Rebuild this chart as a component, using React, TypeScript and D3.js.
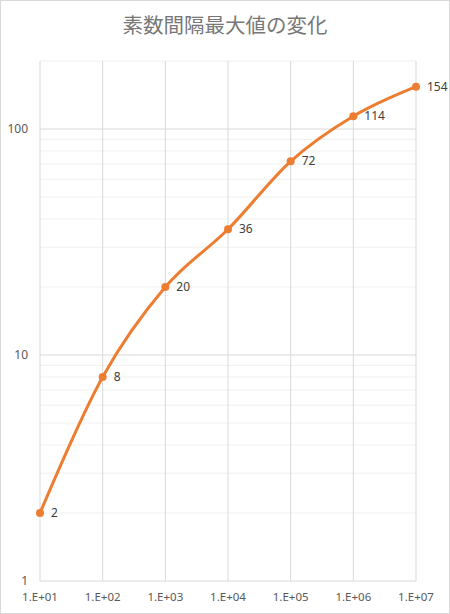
import React from "react";
import * as d3 from "d3";

// Largest prime gap observed up to each bound
const bounds = [1e1, 1e2, 1e3, 1e4, 1e5, 1e6, 1e7];
const maxGaps = [2, 8, 20, 36, 72, 114, 154];
const xTickLabels = ["1.E+01", "1.E+02", "1.E+03", "1.E+04", "1.E+05", "1.E+06", "1.E+07"];
const yMajorTicks = [1, 10, 100];
const title = "素数間隔最大値の変化";

const W = 450;
const H = 614;
const margin = { left: 40, right: 34, top: 61, bottom: 33 };

export default function App() {
  const x = d3
    .scaleLog()
    .domain([1e1, 1e7])
    .range([margin.left, W - margin.right]);
  const y = d3
    .scaleLog()
    .domain([1, 200])
    .range([H - margin.bottom, margin.top]);

  // minor gridlines at 2..9 of each decade, up to the axis maximum
  const minor: number[] = [];
  for (let d = 1; d <= 100; d *= 10) {
    for (let k = 2; k <= 9; k++) {
      const v = k * d;
      if (v <= 200) minor.push(v);
    }
  }

  const pts = bounds.map((b, i) => [x(b), y(maxGaps[i])] as [number, number]);
  const line = d3.line().curve(d3.curveCardinal.tension(0))(pts) || "";

  const textColor = "#595959";
  const font = "'Noto Sans', 'DejaVu Sans', sans-serif";

  return (
    <svg
      width={W}
      height={H}
      style={{ position: "absolute", left: 0, top: 0, background: "#fff" }}
    >
      <rect x={0.5} y={0.5} width={W - 1} height={H - 1} fill="#fff" stroke="#D9D9D9" />
      <text
        x={W / 2}
        y={33}
        textAnchor="middle"
        fontFamily="'Noto Sans CJK JP', sans-serif"
        fontSize={20.5}
        fill="#777777"
      >
        {title}
      </text>

      {minor.map((v) => (
        <line
          key={"m" + v}
          x1={margin.left}
          x2={W - margin.right}
          y1={y(v)}
          y2={y(v)}
          stroke="#F0F0F0"
          strokeWidth={1}
        />
      ))}
      {yMajorTicks.map((v) => (
        <line
          key={"M" + v}
          x1={margin.left}
          x2={W - margin.right}
          y1={y(v)}
          y2={y(v)}
          stroke="#D9D9D9"
          strokeWidth={1}
        />
      ))}
      {bounds.map((b) => (
        <line
          key={"v" + b}
          x1={x(b)}
          x2={x(b)}
          y1={margin.top}
          y2={H - margin.bottom}
          stroke="#D9D9D9"
          strokeWidth={1}
        />
      ))}

      {yMajorTicks.map((v) => (
        <text
          key={"yl" + v}
          x={28}
          y={y(v)}
          dy="0.35em"
          textAnchor="end"
          fontFamily={font}
          fontSize={12}
          fill={textColor}
        >
          {v}
        </text>
      ))}
      {bounds.map((b, i) => (
        <text
          key={"xl" + b}
          x={x(b)}
          y={H - margin.bottom + 16}
          dy="0.35em"
          textAnchor="middle"
          fontFamily={font}
          fontSize={11.5}
          fill={textColor}
        >
          {xTickLabels[i]}
        </text>
      ))}

      <path d={line} fill="none" stroke="#ED7D31" strokeWidth={3} strokeLinecap="round" />
      {pts.map(([px, py], i) => (
        <circle key={"p" + i} cx={px} cy={py} r={4} fill="#ED7D31" />
      ))}
      {pts.map(([px, py], i) => (
        <text
          key={"dl" + i}
          x={px + 11}
          y={py}
          dy="0.35em"
          fontFamily={font}
          fontSize={12}
          fill="#404040"
        >
          {maxGaps[i]}
        </text>
      ))}
    </svg>
  );
}
